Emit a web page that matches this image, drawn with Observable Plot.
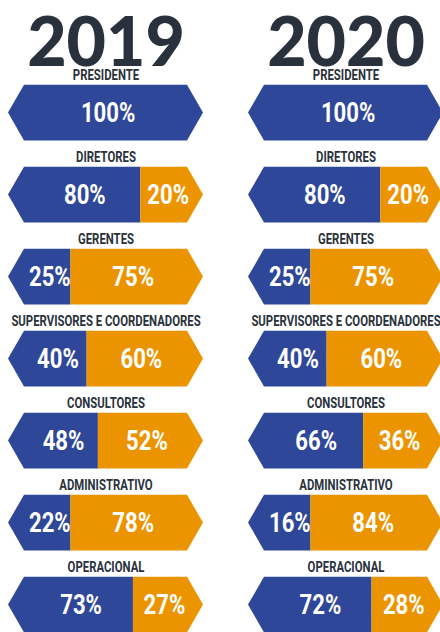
<!DOCTYPE html>
<html><head><meta charset="utf-8">
<script src="https://cdn.jsdelivr.net/npm/d3@7"></script>
<script src="https://cdn.jsdelivr.net/npm/@observablehq/plot@0.6"></script>
<style>
html,body{margin:0;padding:0;background:#fff;overflow:hidden;width:440px;height:632px}
#chart svg{max-width:none;overflow:hidden;display:block}
</style></head><body><div id="chart"></div>
<script>
// ---- data ----
const years = ["2019", "2020"];
const categories = ["PRESIDENTE", "DIRETORES", "GERENTES", "SUPERVISORES E COORDENADORES",
  "CONSULTORES", "ADMINISTRATIVO", "OPERACIONAL"];
const blue2019   = [100, 80, 25, 40, 48, 22, 73];
const orange2019 = [0,   20, 75, 60, 52, 78, 27];
const blue2020   = [100, 80, 25, 40, 66, 16, 72];
const orange2020 = [0,   20, 75, 60, 36, 84, 28];

// ---- styling / shape design ----
const BLUE = "#2f4799", ORANGE = "#ec9400", INK = "#29323c";
const FONT = 'Roboto, "Noto Sans", sans-serif';
const PCT_SIZE = 28, CAT_SIZE = 14.2;
const PCT_SQUEEZE = 0.79, CAT_SQUEEZE = 0.8;   // condensed lettering
// the arrow bar extends past 0..100 with pointed end caps; splits keep a minimum room for labels
const X_START = -16, X_END = 122.9, TIP = 11.4;
const MIN_SHARE = 28.5, MAX_SHARE = 78.3;

const profile = x => x < X_START + TIP ? (x - X_START) / TIP : x > X_END - TIP ? (X_END - x) / TIP : 1;
function outline(a, b) {
  const xs = [a, X_START + TIP, X_END - TIP, b].filter(x => x >= a && x <= b).sort((p, q) => p - q);
  return xs.map(x => ({x, h: profile(x)}));
}

const series = {"2019": [blue2019, orange2019], "2020": [blue2020, orange2020]};
const bluePts = [], orangePts = [], pctLabels = [], catLabels = [];
for (const year of years) {
  const [blue, orange] = series[year];
  categories.forEach((category, i) => {
    const split = orange[i] === 0 ? X_END : Math.max(MIN_SHARE, Math.min(MAX_SHARE, blue[i]));
    outline(X_START, split).forEach(p => bluePts.push({...p, year, category}));
    pctLabels.push({year, category, x: (X_START + TIP + Math.min(split, X_END - TIP)) / 2 + 1.5, text: blue[i] + "%"});
    if (orange[i] > 0) {
      outline(split, X_END).forEach(p => orangePts.push({...p, year, category}));
      pctLabels.push({year, category, x: (split + X_END - TIP / 2) / 2, text: orange[i] + "%"});
    }
    catLabels.push({year, category});
  });
}

const chart = Plot.plot({
  width: 443, height: 640,
  marginLeft: 7.5, marginRight: 0, marginTop: 59.3, marginBottom: 0,
  x: {domain: [X_START, X_END], axis: null},
  y: {domain: [-1.1638, 1.7815], axis: null},
  fx: {domain: years, paddingInner: 0.188, paddingOuter: 0, axis: null},
  fy: {domain: categories, padding: 0, axis: null},
  marks: [
    Plot.areaY(bluePts, {x: "x", y1: d => -d.h, y2: d => d.h, fx: "year", fy: "category", fill: BLUE}),
    Plot.areaY(orangePts, {x: "x", y1: d => -d.h, y2: d => d.h, fx: "year", fy: "category", fill: ORANGE}),
    Plot.text(pctLabels, {x: "x", y: 0, text: "text", fx: "year", fy: "category", fill: "white",
      fontSize: PCT_SIZE, fontWeight: "bold", fontFamily: FONT}),
    Plot.text(catLabels, {x: (X_START + X_END) / 2, y: 1.355, text: "category", fx: "year", fy: "category",
      fill: INK, fontSize: CAT_SIZE, fontWeight: "bold", fontFamily: FONT}),
    Plot.text(years, {fx: d => d, fy: () => categories[0], frameAnchor: "top", text: d => d,
      lineAnchor: "bottom", dy: 2.4, fill: INK, fontSize: 68, fontWeight: 900, fontFamily: "Lato"})
  ]
});
document.getElementById("chart").append(chart);

// condense the label lettering (keeps real text, narrows the glyphs)
function squeeze(size, factor) {
  d3.select(chart).selectAll(`g[font-size="${size}"] text`).each(function () {
    const w = this.getComputedTextLength();
    this.setAttribute("textLength", (w * factor).toFixed(2));
    this.setAttribute("lengthAdjust", "spacingAndGlyphs");
  });
}
squeeze(PCT_SIZE, PCT_SQUEEZE);
squeeze(CAT_SIZE, CAT_SQUEEZE);
</script></body></html>
